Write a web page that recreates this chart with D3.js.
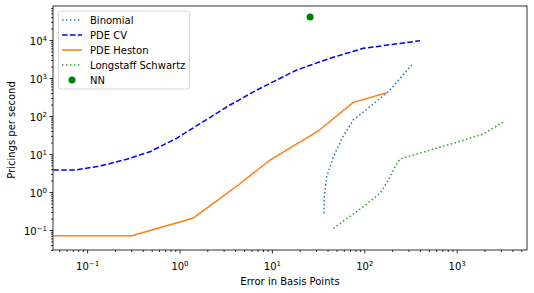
<!DOCTYPE html>
<html><head><meta charset="utf-8">
<script src="https://cdn.jsdelivr.net/npm/d3@7"></script>
<style>
html,body{margin:0;padding:0;background:#fff;}
text{font-family:"DejaVu Sans",sans-serif;}
</style></head>
<body><svg id="c" width="534" height="293"></svg>
<script>
// ---- data ----
const binomialX = [36.6, 36.9, 39.2, 46.2, 59.3, 76, 115, 182, 326];
const binomialY = [0.275, 0.75, 2.53, 8.49, 29.8, 78.5, 176, 436, 2200];
const pdeCvX = [0.001, 0.074, 0.138, 0.268, 0.48, 0.93, 1.80, 3.52, 6.56, 18.5, 42.5, 97.5, 400];
const pdeCvY = [3.79, 3.79, 4.83, 7.26, 11.5, 25.9, 70.8, 195, 455, 1620, 3300, 6040, 9570];
const hestonX = [0.001, 0.304, 1.39, 2.32, 4.33, 9.53, 31.8, 76, 175];
const hestonY = [0.0708, 0.0708, 0.203, 0.50, 1.53, 6.95, 40.3, 229, 410];
const lsX = [46.2, 97.5, 148, 182, 215, 243, 919, 1940, 3330];
const lsY = [0.111, 0.41, 0.92, 2.07, 4.63, 7.39, 19.1, 33.6, 73.8];
const nnX = [25.9];
const nnY = [40300];
const xTicks = [0.1, 1, 10, 100, 1000];
const yTicks = [0.1, 1, 10, 100, 1000, 10000];
const xTickExp = ["\u22121", "0", "1", "2", "3"];
const yTickExp = ["\u22121", "0", "1", "2", "3", "4"];
const seriesNames = ["Binomial", "PDE CV", "PDE Heston", "Longstaff Schwartz", "NN"];

// ---- layout ----
const L = 53, R = 527, T = 6, B = 250;
const svg = d3.select("#c");
const x = d3.scaleLog().domain([Math.pow(10, -1.369), Math.pow(10, 3.7608)]).range([L, R]);
const y = d3.scaleLog().domain([Math.pow(10, -1.526), Math.pow(10, 4.895)]).range([B, T]);

svg.append("defs").append("clipPath").attr("id", "clip")
  .append("rect").attr("x", L).attr("y", T).attr("width", R - L).attr("height", B - T);

function minors(lo, hi) {
  const out = [];
  for (let e = -3; e <= 6; e++) for (let m = 2; m <= 9; m++) {
    const v = m * Math.pow(10, e);
    if (v >= lo && v <= hi) out.push(v);
  }
  return out;
}
const [xl, xh] = x.domain(), [yl, yh] = y.domain();

// minor ticks
const gxm = svg.append("g").attr("transform", `translate(0,${B})`)
  .call(d3.axisBottom(x).tickValues(minors(xl, xh)).tickSize(2).tickFormat(""));
const gym = svg.append("g").attr("transform", `translate(${L},0)`)
  .call(d3.axisLeft(y).tickValues(minors(yl, yh)).tickSize(2).tickFormat(""));
// major ticks
const gx = svg.append("g").attr("transform", `translate(0,${B})`)
  .call(d3.axisBottom(x).tickValues(xTicks).tickSize(3.5).tickPadding(4).tickFormat(""));
const gy = svg.append("g").attr("transform", `translate(${L},0)`)
  .call(d3.axisLeft(y).tickValues(yTicks).tickSize(3.5).tickPadding(4).tickFormat(""));
[gxm, gym, gx, gy].forEach(g => {
  g.select(".domain").remove();
  g.selectAll("line").attr("stroke", "#000").attr("stroke-width", 0.8);
});
// tick labels with superscripts
gx.selectAll(".tick").each(function(d, i) {
  const t = d3.select(this).append("text").attr("y", 20).attr("fill", "#000")
    .attr("font-size", 10).attr("text-anchor", "middle");
  t.append("tspan").text("10");
  t.append("tspan").attr("dy", -4).attr("font-size", 7).text(xTickExp[i]);
});
gy.selectAll(".tick").each(function(d, i) {
  const t = d3.select(this).append("text").attr("x", -6).attr("y", 4).attr("fill", "#000")
    .attr("font-size", 10).attr("text-anchor", "end");
  t.append("tspan").text("10");
  t.append("tspan").attr("dy", -4).attr("font-size", 7).text(yTickExp[i]);
});

// frame
svg.append("rect").attr("x", L).attr("y", T).attr("width", R - L).attr("height", B - T)
  .attr("fill", "none").attr("stroke", "#000").attr("stroke-width", 0.8);

// lines
const plot = svg.append("g").attr("clip-path", "url(#clip)");
const line = d3.line().x(d => x(d[0])).y(d => y(d[1]));
const zip = (a, b) => a.map((v, i) => [v, b[i]]);
const series = [
  {xs: binomialX, ys: binomialY, color: "#1f77b4", dash: "1.5,2.475"},
  {xs: pdeCvX, ys: pdeCvY, color: "#0000ff", dash: "5.55,2.4"},
  {xs: hestonX, ys: hestonY, color: "#ff7f0e", dash: null},
  {xs: lsX, ys: lsY, color: "#2ca02c", dash: "1.5,2.475"}
];
series.forEach(s => {
  plot.append("path").datum(zip(s.xs, s.ys)).attr("d", line)
    .attr("fill", "none").attr("stroke", s.color).attr("stroke-width", 1.5)
    .attr("stroke-dasharray", s.dash);
});
plot.selectAll("circle.nn").data(zip(nnX, nnY)).enter().append("circle")
  .attr("cx", d => x(d[0])).attr("cy", d => y(d[1])).attr("r", 3.5).attr("fill", "#008000");

// axis labels
svg.append("text").attr("x", 290).attr("y", 285).attr("text-anchor", "middle")
  .attr("font-size", 10).attr("fill", "#000").text("Error in Basis Points");
svg.append("text").attr("transform", "translate(15,130) rotate(-90)").attr("text-anchor", "middle")
  .attr("font-size", 10).attr("fill", "#000").text("Pricings per second");

// legend
const lg = svg.append("g");
lg.append("rect").attr("x", 58.5).attr("y", 11).attr("width", 131).attr("height", 78).attr("rx", 2.5)
  .attr("fill", "#fff").attr("fill-opacity", 0.8).attr("stroke", "#cccccc").attr("stroke-width", 0.8);
seriesNames.forEach((name, i) => {
  const yy = 20 + i * 15;
  if (i < 4) {
    const s = series[i];
    lg.append("line").attr("x1", 62).attr("x2", 82).attr("y1", yy).attr("y2", yy)
      .attr("stroke", s.color).attr("stroke-width", 1.5).attr("stroke-dasharray", s.dash);
  } else {
    lg.append("circle").attr("cx", 72).attr("cy", yy).attr("r", 3.5).attr("fill", "#008000");
  }
  lg.append("text").attr("x", 90).attr("y", yy + 3.6).attr("font-size", 10).attr("fill", "#000").text(name);
});
</script></body></html>
